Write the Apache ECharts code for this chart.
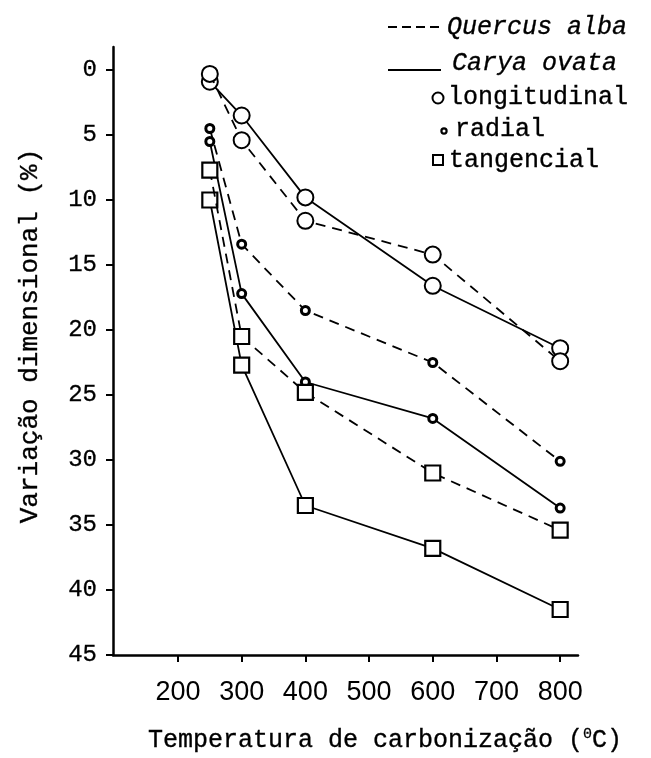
<!DOCTYPE html>
<html>
<head>
<meta charset="utf-8">
<script src="https://cdn.jsdelivr.net/npm/echarts@6/dist/echarts.min.js"></script>
<style>
html,body{margin:0;padding:0;background:#fff;}
#chart{width:651px;height:758px;}
</style>
</head>
<body>
<div id="chart"></div>
<script>
// ---- data ----
var temperatures = [250, 300, 400, 600, 800];
var quercusLongitudinal = [0.3, 5.4, 11.6, 14.2, 22.4];
var caryaLongitudinal   = [0.9, 3.5, 9.8, 16.6, 21.4];
var quercusRadial       = [4.5, 13.4, 18.5, 22.5, 30.1];
var caryaRadial         = [5.5, 17.2, 24.0, 26.8, 33.7];
var quercusTangencial   = [7.7, 20.5, 24.8, 31.0, 35.4];
var caryaTangencial     = [10.0, 22.7, 33.5, 36.8, 41.5];
var xTickValues = [200, 300, 400, 500, 600, 700, 800];
var yTickValues = [0, 5, 10, 15, 20, 25, 30, 35, 40, 45];

var MONO = '"Liberation Mono", "DejaVu Sans Mono", monospace';
var SANS = '"Liberation Sans", Arial, sans-serif';

function pairs(xs, ys) { return xs.map(function (x, i) { return [x, ys[i]]; }); }

var markerStyles = {
  longitudinal: { symbol: 'circle', symbolSize: 16, borderWidth: 2 },
  radial: { symbol: 'circle', symbolSize: 8, borderWidth: 3 },
  tangencial: { symbol: 'rect', symbolSize: 15, borderWidth: 2.2 }
};

function makeSeries(name, ys, kind, dashed) {
  var m = markerStyles[kind];
  return {
    name: name,
    type: 'line',
    data: pairs(temperatures, ys),
    symbol: m.symbol,
    symbolSize: m.symbolSize,
    showAllSymbol: true,
    lineStyle: { color: '#000', width: 1.8, type: dashed ? [10, 7] : 'solid' },
    itemStyle: { color: '#fff', borderColor: '#000', borderWidth: m.borderWidth },
    emphasis: { disabled: true },
    animation: false,
    z: dashed ? 3 : 2
  };
}

function txt(extra) {
  return Object.assign({ fontFamily: MONO, fontSize: 25, fill: '#000', stroke: '#000', lineWidth: 0.35, verticalAlign: 'middle' }, extra);
}

var chart = echarts.init(document.getElementById('chart'), null, { renderer: 'canvas' });

var option = {
  backgroundColor: '#fff',
  animation: false,
  grid: { left: 113, top: 47, right: 73, bottom: 103, containLabel: false },
  xAxis: {
    type: 'value',
    min: 98,
    max: 828,
    splitLine: { show: false },
    axisLine: { show: true, onZero: false, lineStyle: { color: '#000', width: 2.5 } },
    axisTick: { show: true, inside: false, length: 7, customValues: xTickValues, lineStyle: { color: '#000', width: 2 } },
    axisLabel: { customValues: xTickValues, margin: 24, color: '#000', fontFamily: SANS, fontSize: 27 }
  },
  yAxis: {
    type: 'value',
    inverse: true,
    min: -1.77,
    max: 45,
    splitLine: { show: false },
    axisLine: { show: true, onZero: false, lineStyle: { color: '#000', width: 2.5 } },
    axisTick: { show: true, inside: false, length: 7, customValues: yTickValues, lineStyle: { color: '#000', width: 2 } },
    axisLabel: { customValues: yTickValues, margin: 16, color: '#000', fontFamily: MONO, fontSize: 24, textBorderColor: '#000', textBorderWidth: 0.3 }
  },
  series: [
    makeSeries('Quercus alba longitudinal', quercusLongitudinal, 'longitudinal', true),
    makeSeries('Carya ovata longitudinal', caryaLongitudinal, 'longitudinal', false),
    makeSeries('Quercus alba radial', quercusRadial, 'radial', true),
    makeSeries('Carya ovata radial', caryaRadial, 'radial', false),
    makeSeries('Quercus alba tangencial', quercusTangencial, 'tangencial', true),
    makeSeries('Carya ovata tangencial', caryaTangencial, 'tangencial', false)
  ],
  graphic: [
    // axis titles
    {
      type: 'text', x: 385, y: 740,
      style: {
        text: '{t|Temperatura de carbonização (}{s|0}{t|C)}',
        align: 'center', verticalAlign: 'middle',
        rich: {
          t: { fontFamily: MONO, fontSize: 25, fill: '#000', stroke: '#000', lineWidth: 0.35 },
          s: { fontFamily: MONO, fontSize: 15, fill: '#000', stroke: '#000', lineWidth: 0.3, verticalAlign: 'top', padding: [0, 0, 12, 0] }
        }
      }
    },
    {
      type: 'text', x: 30, y: 336, rotation: Math.PI / 2,
      style: txt({ text: 'Variação dimensional (%)', fontSize: 26, align: 'center' })
    },
    // legend
    { type: 'line', shape: { x1: 388, y1: 27, x2: 442, y2: 27 }, style: { stroke: '#000', lineWidth: 2, lineDash: [9, 5] } },
    { type: 'text', x: 447, y: 27, style: txt({ text: 'Quercus alba', fontStyle: 'italic' }) },
    { type: 'line', shape: { x1: 388, y1: 70, x2: 441, y2: 70 }, style: { stroke: '#000', lineWidth: 2 } },
    { type: 'text', x: 452, y: 63, style: txt({ text: 'Carya ovata', fontStyle: 'italic' }) },
    { type: 'circle', shape: { cx: 438, cy: 98, r: 5.5 }, style: { fill: '#fff', stroke: '#000', lineWidth: 2 } },
    { type: 'text', x: 448, y: 97, style: txt({ text: 'longitudinal' }) },
    { type: 'circle', shape: { cx: 444, cy: 131, r: 2.6 }, style: { fill: '#fff', stroke: '#000', lineWidth: 2.2 } },
    { type: 'text', x: 455, y: 129, style: txt({ text: 'radial' }) },
    { type: 'rect', shape: { x: 433, y: 155, width: 10, height: 10 }, style: { fill: '#fff', stroke: '#000', lineWidth: 2 } },
    { type: 'text', x: 449, y: 160, style: txt({ text: 'tangencial' }) }
  ]
};
chart.setOption(option);
</script>
</body>
</html>
